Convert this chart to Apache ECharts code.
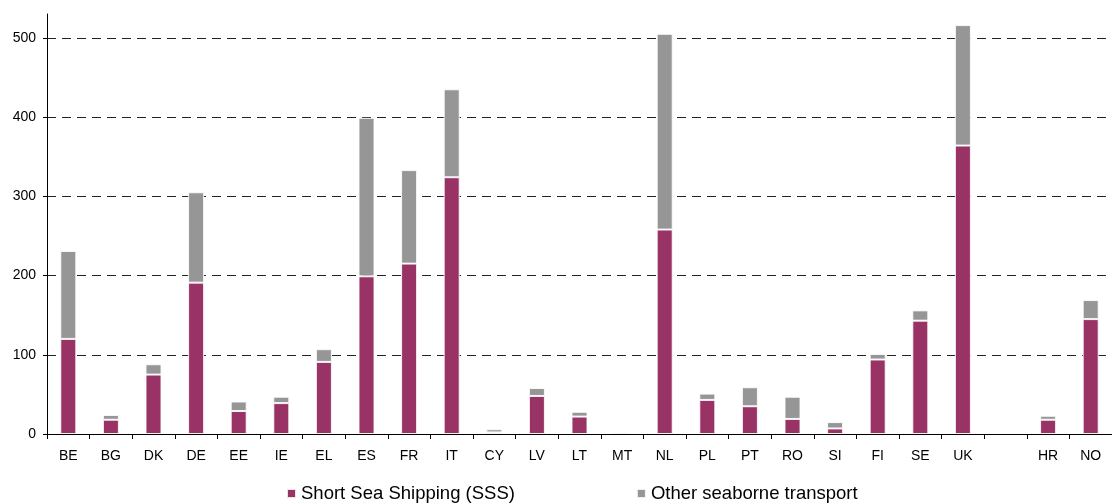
<!DOCTYPE html>
<html>
<head>
<meta charset="utf-8">
<script src="https://cdn.jsdelivr.net/npm/echarts@6/dist/echarts.min.js"></script>
<style>
html,body{margin:0;padding:0;background:#fff;}
#chart{width:1112px;height:504px;}
</style>
</head>
<body>
<div id="chart"></div>
<script>
const categories = ['BE','BG','DK','DE','EE','IE','EL','ES','FR','IT','CY','LV','LT','MT','NL','PL','PT','RO','SI','FI','SE','UK','','HR','NO'];
const sssValues = [120,18,75,191,29,39,91,199,215,324,2,48,22,2,258,43,35,19,7,94,143,364,null,18,145];
const otherValues = [111,6,13,114,12,8,16,200,118,111,4,10,6,0.3,247,8,24,28,8,7,13,152,null,5,24];
const yTicks = [0,100,200,300,400,500];
const seriesNames = ['Short Sea Shipping (SSS)','Other seaborne transport'];

const FONT = "'Liberation Sans', Arial, sans-serif";
const chart = echarts.init(document.getElementById('chart'), null, {renderer:'canvas'});
chart.setOption({
  animation:false,
  backgroundColor:'#fff',
  textStyle:{fontFamily:FONT},
  grid:{left:47, top:14, width:1072, height:420, containLabel:false},
  legend:{
    left:281, top:479,
    itemWidth:9, itemHeight:9, itemGap:121,
    icon:'rect',
    textStyle:{fontSize:18.5, color:'#000', fontFamily:FONT},
    data:seriesNames
  },
  xAxis:{
    type:'category',
    data:categories,
    axisLine:{lineStyle:{color:'#000', width:1}},
    axisTick:{show:true, alignWithLabel:false, length:5, lineStyle:{color:'#000'}},
    axisLabel:{color:'#000', fontSize:14, margin:15, interval:0, fontFamily:FONT},
    splitLine:{show:false}
  },
  yAxis:{
    type:'value',
    min:0, max:530,
    axisLine:{show:true, lineStyle:{color:'#000', width:1}},
    axisTick:{show:true, length:4, lineStyle:{color:'#000'}, customValues:yTicks},
    axisLabel:{color:'#000', fontSize:14, margin:11, fontFamily:FONT, customValues:yTicks},
    splitLine:{show:true, lineStyle:{color:'#222', width:1, type:[9,6]}}
  },
  series:[
    {
      name:seriesNames[0], type:'bar', stack:'t', data:sssValues,
      barWidth:16,
      itemStyle:{color:'#993366', borderColor:'rgba(255,255,255,0.85)', borderWidth:1}
    },
    {
      name:seriesNames[1], type:'bar', stack:'t', data:otherValues,
      barWidth:16,
      itemStyle:{color:'#969696', borderColor:'rgba(255,255,255,0.85)', borderWidth:1}
    }
  ]
});
</script>
</body>
</html>
